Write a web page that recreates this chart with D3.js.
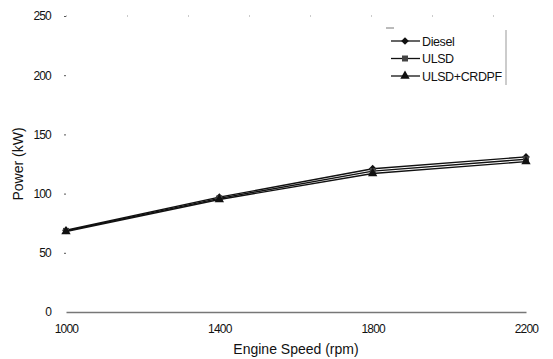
<!DOCTYPE html>
<html>
<head>
<meta charset="utf-8">
<script src="https://cdn.jsdelivr.net/npm/d3@7"></script>
<style>
  body { margin: 0; background: #fff; }
  text { font-family: "Liberation Sans", Arial, sans-serif; fill: #111; }
</style>
</head>
<body>
<svg id="chart" width="553" height="359"></svg>
<script>
// chart data
const speeds = [1000, 1400, 1800, 2200];
const diesel = [69, 97, 121, 131];
const ulsd = [68.5, 96, 119, 129];
const ulsdCrdpf = [68, 95, 117, 127];
const seriesNames = ['Diesel', 'ULSD', 'ULSD+CRDPF'];
const yTicks = [0, 50, 100, 150, 200, 250];

const margin = { top: 16, right: 27, bottom: 47, left: 66 };
const width = 553 - margin.left - margin.right;
const height = 359 - margin.top - margin.bottom;

const svg = d3.select('#chart');
const g = svg.append('g').attr('transform', `translate(${margin.left},${margin.top})`);

const x = d3.scaleLinear().domain([1000, 2200]).range([0, width]);
const y = d3.scaleLinear().domain([0, 250]).range([height, 0]);

/** faint top border */
g.append('line')
  .attr('x1', 0).attr('x2', width)
  .attr('y1', 0).attr('y2', 0)
  .attr('stroke', '#bbb')
  .attr('stroke-dasharray', '1,60')
  .attr('stroke-width', 1.5);

// x axis
const xAxis = g.append('g')
  .attr('transform', `translate(0,${height})`)
  .call(d3.axisBottom(x).tickValues(speeds).tickSize(0).tickPadding(12).tickFormat(d3.format('d')));
xAxis.select('.domain').attr('stroke', '#777').attr('stroke-width', 1.5);
xAxis.selectAll('text').style('font-size', '12px').style('letter-spacing', '-0.8px');

// y axis, only small ticks
const yAxis = g.append('g')
  .call(d3.axisLeft(y).tickValues(yTicks).tickSize(2).tickPadding(13));
yAxis.select('.domain').remove();
yAxis.selectAll('.tick line').attr('stroke', '#555');
yAxis.selectAll('.tick').filter(d => d === 0).select('line').remove();
yAxis.selectAll('text').style('font-size', '12px').style('letter-spacing', '-0.8px');

// titles
svg.append('text')
  .attr('x', margin.left + width / 2).attr('y', 354)
  .attr('text-anchor', 'middle')
  .style('font-size', '14px')
  .text('Engine Speed (rpm)');
svg.append('text')
  .attr('transform', `translate(23,${margin.top + height / 2}) rotate(-90)`)
  .attr('text-anchor', 'middle')
  .style('font-size', '14px')
  .text('Power (kW)');

// series
const series = [diesel, ulsd, ulsdCrdpf];
const markers = [d3.symbolSquare, d3.symbolSquare, d3.symbolTriangle];
const markerSize = [30, 36, 38];
const markerRot = [45, 0, 0];
const line = d3.line().x((d, i) => x(speeds[i])).y(d => y(d));

series.forEach((vals, s) => {
  g.append('path')
    .datum(vals)
    .attr('fill', 'none')
    .attr('stroke', '#111')
    .attr('stroke-width', 1.4)
    .attr('d', line);
  g.selectAll(`.m${s}`)
    .data(vals)
    .join('path')
    .attr('class', `m${s}`)
    .attr('transform', (d, i) => `translate(${x(speeds[i])},${y(d)}) rotate(${markerRot[s]})`)
    .attr('d', d3.symbol().type(markers[s]).size(markerSize[s]))
    .attr('fill', s === 1 ? '#444' : '#111');
});

// legend
const lg = svg.append('g').attr('transform', 'translate(386,28)');
lg.append('line').attr('x1', 120).attr('x2', 120).attr('y1', 2).attr('y2', 57)
  .attr('stroke', '#999').attr('stroke-width', 1);
lg.append('line').attr('x1', 0).attr('x2', 8).attr('y1', 0).attr('y2', 0)
  .attr('stroke', '#777').attr('stroke-width', 1);
seriesNames.forEach((name, i) => {
  const yy = 13 + i * 17.5;
  lg.append('line').attr('x1', 5).attr('x2', 34).attr('y1', yy).attr('y2', yy)
    .attr('stroke', '#111').attr('stroke-width', 1.3);
  lg.append('path')
    .attr('transform', `translate(19,${yy}) rotate(${markerRot[i]})`)
    .attr('d', d3.symbol().type(markers[i]).size(markerSize[i]))
    .attr('fill', i === 1 ? '#444' : '#111');
  lg.append('text')
    .attr('x', 36).attr('y', yy + 4.5)
    .style('font-size', '12.5px')
    .style('letter-spacing', '-0.4px')
    .text(name);
});
</script>
</body>
</html>
